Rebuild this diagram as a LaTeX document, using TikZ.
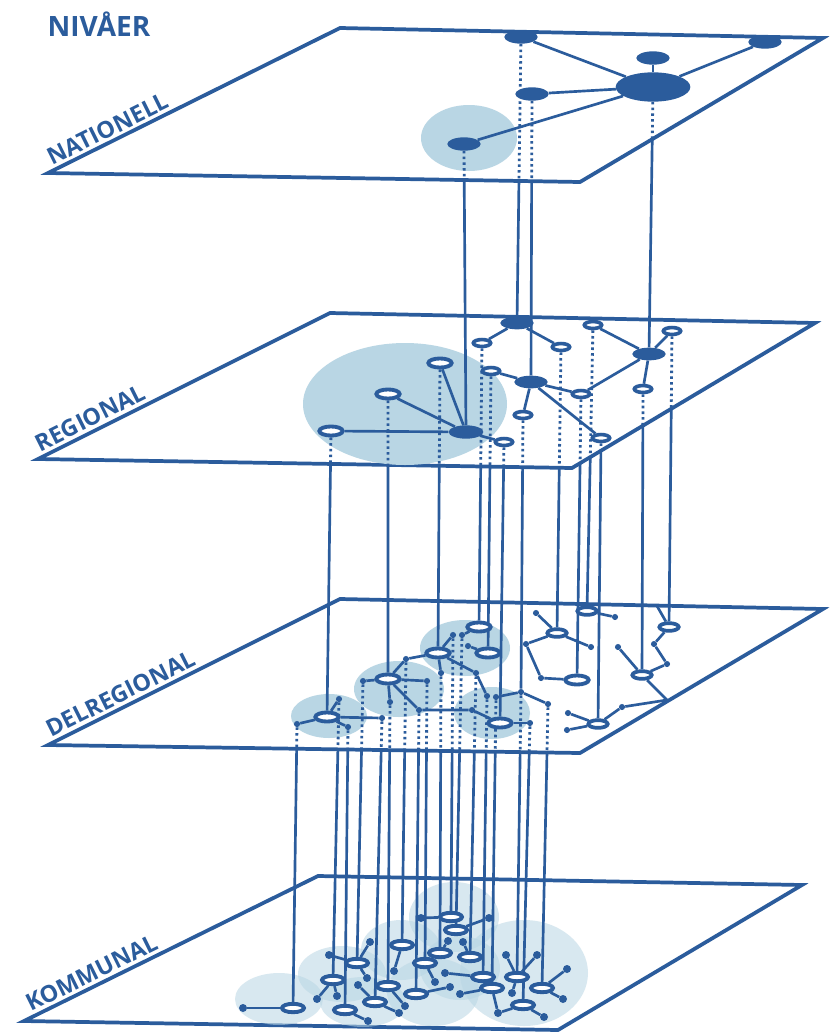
\documentclass[tikz,border=0pt]{standalone}
\usepackage{fontspec}
\setmainfont{Open Sans}
\usetikzlibrary{shapes.geometric}
\definecolor{nb}{HTML}{2B5C9C}
\definecolor{blob}{HTML}{B9D6E4}
\pgfdeclarelayer{back}
\pgfdeclarelayer{mid}
\pgfsetlayers{back,mid,main}
\newcommand\vlk[4]{%
  \coordinate (vx) at (intersection of #1--#2 and #3--#4);
  \draw[dotline] (#1) -- (vx);
  \draw[conn] (vx) -- (#2);
}
\begin{document}
\begin{tikzpicture}[x=0.75pt,y=-0.75pt,
  plane/.style={draw=nb,line width=2.8pt,line join=miter,fill=white},
  conn/.style={draw=nb,line width=2pt},
  dotline/.style={draw=nb,line width=2.1pt,dash pattern=on 1.9pt off 2.4pt},
  nfill/.style={ellipse,fill=nb,inner sep=0pt,minimum width=25pt,minimum height=10pt},
  nhub/.style={ellipse,fill=nb,inner sep=0pt,minimum width=56pt,minimum height=22pt},
  rhub/.style={ellipse,fill=nb,inner sep=0pt,minimum width=25pt,minimum height=9.5pt},
  ring/.style={ellipse,draw=nb,fill=white,line width=2.7pt,inner sep=0pt,minimum width=13pt,minimum height=5.2pt},
  ringL/.style={ring,line width=2.9pt,minimum width=17.5pt,minimum height=6.8pt},
  ringM/.style={ring,line width=2.8pt,minimum width=14.5pt,minimum height=5.8pt},
  ringK/.style={ring,line width=2.9pt,minimum width=16.5pt,minimum height=6.3pt},
  dot/.style={circle,fill=nb,inner sep=0pt,minimum size=4.6pt},
  kdot/.style={circle,fill=nb,inner sep=0pt,minimum size=6pt},
  blobr/.style={fill=blob},
  blobk/.style={fill=blob,fill opacity=0.55},
  lbl/.style={text=nb,font=\bfseries\fontsize{17.5}{17.5}\selectfont,inner sep=0pt}
]
\useasboundingbox (0,0) rectangle (830,1032);

% ---------------- planes and blobs
\begin{pgfonlayer}{back}
\draw[plane] (48,173) coordinate (pN1) -- (340,28) coordinate (pN2) -- (823,38) coordinate (pN3) -- (580,182) coordinate (pN4) -- cycle;
\draw[plane] (38,459) coordinate (pR1) -- (330,313) coordinate (pR2) -- (815,323) coordinate (pR3) -- (572,468) coordinate (pR4) -- cycle;
\draw[plane] (48,745) coordinate (pD1) -- (340,599) coordinate (pD2) -- (823,609) coordinate (pD3) -- (580,753) coordinate (pD4) -- cycle;
\draw[plane] (24,1021) coordinate (pK1) -- (318,876) coordinate (pK2) -- (802,885) coordinate (pK3) -- (558,1030) coordinate (pK4) -- cycle;

\fill[blobr] (469,138) ellipse [x radius=48, y radius=33];
\fill[blobr] (405,404) ellipse [x radius=102, y radius=61];
\fill[blobr] (329,716) ellipse [x radius=38, y radius=22];
\fill[blobr] (399,689) ellipse [x radius=45, y radius=28];
\fill[blobr] (465,648) ellipse [x radius=45, y radius=28];
\fill[blobr] (492,713) ellipse [x radius=38, y radius=26];

\fill[blobk] (279,999) ellipse [x radius=44, y radius=26];
\fill[blobk] (342,974) ellipse [x radius=44, y radius=28];
\fill[blobk] (363,1002) ellipse [x radius=43, y radius=25];
\fill[blobk] (401,950) ellipse [x radius=40, y radius=30];
\fill[blobk] (454,917) ellipse [x radius=45, y radius=35];
\fill[blobk] (433,992) ellipse [x radius=46, y radius=34];
\fill[blobk] (460,968) ellipse [x radius=40, y radius=32];
\fill[blobk] (524,973) ellipse [x radius=64, y radius=53];
\end{pgfonlayer}

% ---------------- labels
\node[lbl,font=\bfseries\fontsize{21}{21}\selectfont] (title) at (99,24) {NIVÅER};
\path (pN1) -- node[lbl,sloped,above=3pt,pos=0.225] (lN) {NATIONELL} (pN2);
\path (pR1) -- node[lbl,sloped,above=3.5pt,pos=0.20] (lR) {REGIONAL} (pR2);
\path (pD1) -- node[lbl,sloped,above=3.5pt,pos=0.27] (lD) {DELREGIONAL} (pD2);
\path (pK1) -- node[lbl,sloped,above=3.5pt,pos=0.25] (lK) {KOMMUNAL} (pK2);

% ---------------- national nodes
\node[nfill] (N1) at (521,37) {};
\node[nfill] (N2) at (653,58) {};
\node[nfill] (N3) at (765,42) {};
\node[nhub] (NH) at (653,87) {};
\node[nfill] (N4) at (532,94) {};
\node[nfill] (N5) at (464,144) {};

% ---------------- regional nodes
\node[rhub] (RA) at (517,323) {};
\node[ring] (a1) at (482,343) {};
\node[ring] (a2) at (561,347) {};
\node[ring] (b1) at (593,325) {};
\node[rhub] (RC) at (649,354) {};
\node[ring] (c1) at (672,331) {};
\node[ring] (c2) at (643,389) {};
\node[rhub] (RB) at (531,382) {};
\node[ring] (b2) at (491,371) {};
\node[ring] (b3) at (523,415) {};
\node[ring] (b4) at (581,394) {};
\node[ring] (b5) at (601,438) {};
\node[rhub,minimum width=26pt,minimum height=10pt] (RD) at (466,432) {};
\node[ringL] (d1) at (440,363) {};
\node[ringL] (d2) at (388,394) {};
\node[ringL] (d3) at (331,431) {};
\node[ring] (d4) at (504,442) {};

% ---------------- delregional nodes
\node[ringL] (P1) at (327,717) {};
\node[dot] (dC) at (297,724) {};
\node[dot] (dA) at (339,699) {};
\node[dot] (dB) at (348,727) {};
\node[dot] (dD) at (382,718) {};
\node[ringL] (P2) at (388,679) {};
\node[dot] (dE) at (363,681) {};
\node[dot] (dF) at (427,681) {};
\node[dot] (dG) at (390,702) {};
\node[dot] (dH) at (406,659) {};
\node[dot] (dI) at (419,710) {};
\node[ringL] (P3) at (438,653) {};
\node[dot] (dK) at (453,635) {};
\node[dot] (dL) at (441,673) {};
\node[dot] (dM) at (476,673) {};
\node[dot] (dN) at (487,696) {};
\node[ringL] (P4) at (479,627) {};
\node[dot] (dO) at (462,635) {};
\node[ringL] (P5) at (488,653) {};
\node[dot] (dP) at (468,646) {};
\node[ringL] (P6) at (500,723) {};
\node[dot] (dJ) at (472,710) {};
\node[dot] (dQ) at (530,723) {};
\node[dot] (dR) at (496,697) {};
\node[dot] (dS) at (521,692) {};
\node[dot] (dT) at (548,704) {};
\node[ringM] (P7) at (557,633) {};
\node[dot] (dU) at (536,613) {};
\node[dot] (dV) at (591,647) {};
\node[dot] (dW) at (526,644) {};
\node[dot] (dX) at (541,678) {};
\node[ringL] (P8) at (577,680) {};
\node[ringM] (P9) at (587,611) {};
\node[dot] (dY) at (615,617) {};
\node[ringM] (P12) at (669,627) {};
\coordinate (dZ) at (657,606);
\node[dot] (dAA) at (654,644) {};
\node[dot] (dAB) at (667,664) {};
\node[ringM] (P11) at (642,675) {};
\node[dot] (dAC) at (618,647) {};
\coordinate (dAD) at (667,700);
\node[dot] (dAE) at (622,707) {};
\node[ringM] (P10) at (598,724) {};
\node[dot] (dAF) at (568,713) {};
\node[dot] (dAG) at (567,730) {};

% ---------------- kommunal nodes
\node[kdot] (k1) at (243,1008) {};
\node[kdot] (k2) at (317,999) {};
\node[kdot] (k3) at (337,996) {};
\node[kdot] (k4) at (368,1021) {};
\node[kdot] (k5) at (329,955) {};
\node[kdot] (k6) at (370,942) {};
\node[kdot] (k7) at (367,978) {};
\node[kdot] (k8) at (358,985) {};
\node[kdot] (k9) at (399,1013) {};
\node[kdot] (k10) at (405,1006) {};
\node[kdot] (k11) at (394,971) {};
\node[kdot] (k12) at (450,987) {};
\node[kdot] (k13) at (435,982) {};
\node[kdot] (k14) at (421,918) {};
\node[kdot] (k15) at (489,918) {};
\node[kdot] (k16) at (448,941) {};
\node[kdot] (k17) at (463,942) {};
\node[kdot] (k18) at (445,973) {};
\node[kdot] (k19) at (460,994) {};
\node[kdot] (k20) at (498,1013) {};
\node[kdot] (k21) at (506,955) {};
\node[kdot] (k22) at (537,955) {};
\node[kdot] (k23) at (512,993) {};
\node[kdot] (k24) at (567,969) {};
\node[kdot] (k25) at (563,999) {};
\node[kdot] (k26) at (544,1017) {};
\node[ringK] (K1) at (293,1008) {};
\node[ringK] (K2) at (333,980) {};
\node[ringK] (K4) at (357,963) {};
\node[ringK] (K3) at (345,1010) {};
\node[ringK] (K7) at (402,945) {};
\node[ringK] (K6) at (388,986) {};
\node[ringK] (K5) at (375,1002) {};
\node[ringK] (K9) at (425,963) {};
\node[ringK] (K8) at (416,994) {};
\node[ringK] (K10) at (440,953) {};
\node[ringK] (K11) at (451,917) {};
\node[ringK] (K12) at (456,930) {};
\node[ringK] (K13) at (470,957) {};
\node[ringK] (K14) at (483,977) {};
\node[ringK] (K15) at (492,988) {};
\node[ringK] (K16) at (517,977) {};
\node[ringK] (K18) at (542,988) {};
\node[ringK] (K17) at (523,1005) {};

% ---------------- connectors
\begin{pgfonlayer}{mid}
% national
\draw[conn] (NH) -- (N1);
\draw[conn] (NH) -- (N2);
\draw[conn] (NH) -- (N3);
\draw[conn] (NH) -- (N4);
\draw[conn] (NH) -- (N5);
% national -> regional
\vlk{N5}{RD}{pN1}{pN4}
\vlk{N1}{RA}{pN1}{pN4}
\vlk{N4}{RB}{pN1}{pN4}
\vlk{NH}{RC}{pN3}{pN4}
% regional
\draw[conn] (RA) -- (a1);
\draw[conn] (RA) -- (a2);
\draw[conn] (RB) -- (b2);
\draw[conn] (RB) -- (b3);
\draw[conn] (RB) -- (b4);
\draw[conn] (RB) -- (b5);
\draw[conn] (b4) -- (RC);
\draw[conn] (RC) -- (b1);
\draw[conn] (RC) -- (c1);
\draw[conn] (RC) -- (c2);
\draw[conn] (RD) -- (d1);
\draw[conn] (RD) -- (d2);
\draw[conn] (RD) -- (d3);
\draw[conn] (RD) -- (d4);
% regional -> delregional
\vlk{d3}{P1}{pR1}{pR4}
\vlk{d2}{P2}{pR1}{pR4}
\vlk{d1}{P3}{pR1}{pR4}
\vlk{a1}{P4}{pR1}{pR4}
\vlk{b2}{P5}{pR1}{pR4}
\vlk{d4}{P6}{pR1}{pR4}
\vlk{b3}{dS}{pR1}{pR4}
\vlk{a2}{P7}{pR1}{pR4}
\vlk{b4}{P8}{pR3}{pR4}
\vlk{b1}{P9}{pR3}{pR4}
\vlk{b5}{P10}{pR3}{pR4}
\vlk{c2}{P11}{pR3}{pR4}
\vlk{c1}{P12}{pR3}{pR4}
% delregional
\draw[conn] (P1) -- (dC);
\draw[conn] (P1) -- (dA);
\draw[conn] (P1) -- (dB);
\draw[conn] (P1) -- (dD);
\draw[conn] (P2) -- (dE);
\draw[conn] (P2) -- (dF);
\draw[conn] (P2) -- (dG);
\draw[conn] (P2) -- (dH) -- (P3);
\draw[conn] (P2) -- (dI) -- (dJ) -- (P6);
\draw[conn] (P3) -- (dK);
\draw[conn] (P3) -- (dL);
\draw[conn] (P3) -- (dM) -- (dN);
\draw[conn] (P4) -- (dO);
\draw[conn] (P5) -- (dP);
\draw[conn] (P6) -- (dQ);
\draw[conn] (dR) -- (dS) -- (dT);
\draw[conn] (P7) -- (dU);
\draw[conn] (P7) -- (dV);
\draw[conn] (P7) -- (dW) -- (dX) -- (P8);
\draw[conn] (P9) -- (dY);
\draw[conn] (P12) -- (dZ);
\draw[conn] (P12) -- (dAA) -- (dAB) -- (P11);
\draw[conn] (P11) -- (dAC);
\draw[conn] (P11) -- (dAD) -- (dAE) -- (P10);
\draw[conn] (P10) -- (dAF);
\draw[conn] (P10) -- (dAG);
% delregional -> kommunal
\vlk{dC}{K1}{pD1}{pD4}
\vlk{dA}{K2}{pD1}{pD4}
\vlk{dB}{K3}{pD1}{pD4}
\vlk{dE}{K4}{pD1}{pD4}
\vlk{dD}{K5}{pD1}{pD4}
\vlk{dG}{K6}{pD1}{pD4}
\vlk{dH}{K7}{pD1}{pD4}
\vlk{dI}{K8}{pD1}{pD4}
\vlk{dF}{K9}{pD1}{pD4}
\vlk{dL}{K10}{pD1}{pD4}
\vlk{dK}{K11}{pD1}{pD4}
\vlk{dO}{K12}{pD1}{pD4}
\vlk{dM}{K13}{pD1}{pD4}
\vlk{dN}{K14}{pD1}{pD4}
\vlk{dR}{K15}{pD1}{pD4}
\vlk{dS}{K16}{pD1}{pD4}
\vlk{dQ}{K17}{pD1}{pD4}
\vlk{dT}{K18}{pD1}{pD4}
% kommunal
\draw[conn] (K1) -- (k1);
\draw[conn] (K2) -- (k2);
\draw[conn] (K2) -- (k3);
\draw[conn] (K3) -- (k4);
\draw[conn] (K4) -- (k5);
\draw[conn] (K4) -- (k6);
\draw[conn] (K4) -- (k7);
\draw[conn] (K5) -- (k8);
\draw[conn] (K5) -- (k9);
\draw[conn] (K6) -- (k10);
\draw[conn] (K7) -- (k11);
\draw[conn] (K8) -- (k12);
\draw[conn] (K9) -- (k13);
\draw[conn] (K11) -- (k14);
\draw[conn] (K12) -- (k15);
\draw[conn] (K10) -- (k16);
\draw[conn] (K13) -- (k17);
\draw[conn] (K14) -- (k18);
\draw[conn] (K15) -- (k19);
\draw[conn] (K15) -- (k20) -- (K17);
\draw[conn] (K16) -- (k21);
\draw[conn] (K16) -- (k22);
\draw[conn] (K16) -- (k23);
\draw[conn] (K18) -- (k24);
\draw[conn] (K18) -- (k25);
\draw[conn] (K17) -- (k26);
\end{pgfonlayer}
\end{tikzpicture}
\end{document}
